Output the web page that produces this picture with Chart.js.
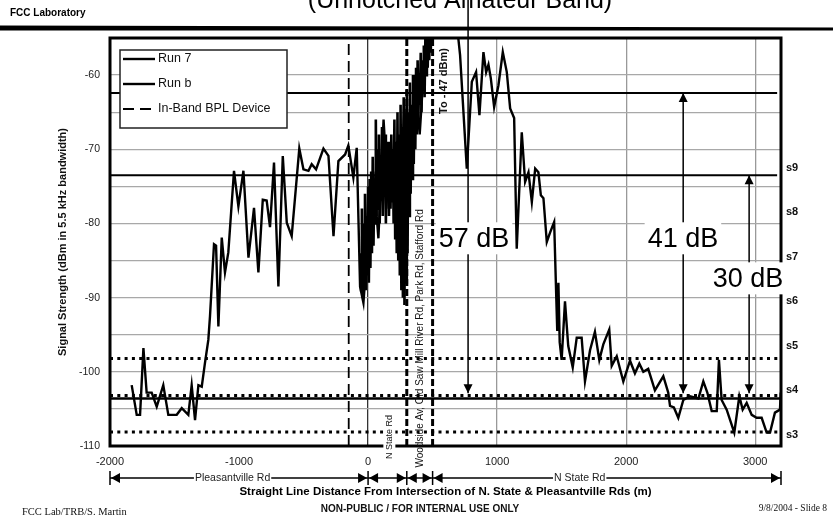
<!DOCTYPE html>
<html>
<head>
<meta charset="utf-8">
<script src="https://cdn.jsdelivr.net/npm/chart.js@4.4.1/dist/chart.umd.min.js"></script>
<style>
  html, body { margin: 0; padding: 0; background: #fff; }
  canvas { display: block; }
</style>
</head>
<body>
<canvas id="chart" width="833" height="518"></canvas>
<script>
// Run 7 (distance from intersection in m, signal in dBm)
const run7Dist = [-1832, -1793, -1767, -1741, -1716, -1677, -1638, -1587, -1548, -1483, -1444, -1393, -1367, -1341, -1315, -1289,
    -1264, -1238, -1225, -1194, -1178, -1160, -1134, -1109, -1083, -1039, -1005, -966, -927, -884, -850, -816, -786, -760,
    -729, -695, -661, -630, -592, -533, -501, -462, -437, -403, -346, -307, -268, -230, -178, -153, -114, -88, -62, -36,
    2, 40, 80, 120, 160, 200, 240, 280, 320, 360, 400, 440, 480, 560, 649, 693, 713, 765, 804, 837, 863, 894, 915, 933,
    951, 977, 1010, 1044, 1075, 1101, 1132, 1152, 1191, 1217, 1243, 1269, 1295, 1320, 1339, 1359, 1385, 1411, 1442, 1458,
    1466, 1475, 1485, 1500, 1526, 1551, 1586, 1617, 1655, 1681, 1720, 1758, 1792, 1823, 1869, 1888, 1927, 1978, 2030, 2068,
    2102, 2133, 2171, 2223, 2288, 2326, 2340, 2370, 2404, 2443, 2495, 2560, 2598, 2629, 2663, 2702, 2719, 2740, 2779, 2838,
    2877, 2903, 2934, 2973, 3011, 3050, 3089, 3115, 3153, 3192, 3198];
const run7Dbm = [-101.8, -105.8, -105.8, -96.8, -102.8, -102.8, -104.7, -101.8, -105.8, -105.8, -104.9, -105.8, -101.8, -106.5, -101.8, -102,
    -98.8, -95.7, -92.5, -82.8, -83, -93.9, -81.9, -86.6, -83.9, -72.9, -77.7, -72.9, -84.6, -77.9, -86.6, -76.8, -76.9, -80.5,
    -71.8, -88.5, -70.9, -79.9, -81.7, -69.9, -72.7, -72.9, -72.0, -72.7, -69.9, -70.9, -81.7, -71.6, -70.7, -69.5, -73.8, -69.8, -88.5, -90.7,
    -81.7, -73, -82, -66, -78, -70, -85, -64, -76, -60, -68, -57, -54, -47, -50, -54, -57.3, -72.6, -60.9, -59.6, -65.4, -56.9, -59.6, -58.6,
    -60.4, -64.3, -61.4, -56.9, -59.6, -64.5, -65.8, -83.4, -67.7, -74.4, -73.1, -77.1, -72.6, -73.1, -76.2, -76.6, -82.5, -81.2, -79.8, -89.7,
    -94.5, -88, -96, -98.4, -90.5, -96.5, -99.4, -95.4, -95.4, -101.3, -97.1, -94.6, -98.4, -96.3, -94.3, -99.2, -97.9, -101.3, -98.5, -100.2,
    -98.9, -100, -99.6, -102.5, -100.6, -102.8, -104.6, -104.8, -106.2, -103.8, -103.3, -103.6, -101.3, -102.8, -105.3, -105.3, -98.4, -103.8, -105.1, -108.2,
    -103.3, -105.1, -104.2, -105.8, -106.2, -106.2, -108.2, -108.2, -105.5, -105.1, -102.8];

// Run b, dense sweep near the intersection
const runBDist = [-60, -54, -48, -42, -36, -30, -24, -18, -12, -6, 0, 6, 12, 18, 24, 30, 36, 42, 48, 54, 60, 66, 72, 78, 84, 90,
    96, 102, 108, 114, 120, 126, 132, 138, 144, 150, 156, 162, 168, 174, 180, 186, 192, 198, 204, 210, 216, 222, 228, 234,
    240, 246, 252, 258, 264, 270, 276, 282, 288, 294, 300, 306, 312, 318, 324, 330, 336, 342, 348, 354, 360, 366, 372, 378,
    384, 390, 396, 402, 408, 414, 420, 426, 432, 438, 444, 450, 456, 462, 468, 474, 480, 486, 492, 498, 504];
const runBDbm = [-84, -89, -78, -90, -80, -88, -76, -89, -79, -87, -75, -88, -74, -86, -73, -84, -71, -83, -74, -80, -66, -79, -70, -78, -68, -80,
    -72, -77, -67, -79, -71, -76, -68, -80, -70, -77, -69, -79, -72, -78, -68, -77, -70, -80, -66, -82, -69, -84, -65, -85,
    -68, -87, -64, -89, -67, -90, -63, -91, -66, -88, -62, -84, -65, -79, -61, -76, -64, -74, -60, -72, -62, -70, -59, -68,
    -58, -66, -60, -64, -57, -65, -58, -62, -56, -63, -55, -60, -54, -59, -53, -58, -52, -57, -50, -55, -49];

const bplDevices = [-150];
const roadCrossings = [300, 500];
const noiseFloor = -103.6;
const refLevels = [-62.4, -73.5];
const dottedLevels = [-98.2, -103.2, -108.1];
const arrowDist = [775, 2442, 2953];
const arrowTop = [-47, -62.4, -73.5];
const arrowTip = -102.9;
const arrowLabels = ['57 dB', '41 dB', '30 dB'];
const sUnitValues = [-73, -79, -85, -91, -97, -103, -109];
const sUnitLabels = ['s9', 's8', 's7', 's6', 's5', 's4', 's3'];
const xTickValues = [-2000, -1000, 0, 1000, 2000, 3000];
const xGridAt = [0, 1000, 2000, 3000];
const roadBounds = [-2000, 0, 300, 500, 3200];
const roadNames = ['Pleasantville Rd', '', '', 'N State Rd'];
const roadNameAt = [-1050, 0, 0, 1640];

const pts = (xs, ys) => xs.map((x, i) => ({ x, y: ys[i] }));
const seg = (x1, y1, x2, y2) => [{ x: x1, y: y1 }, { x: x2, y: y2 }];
const black = (label, data, extra) => Object.assign({
    label, data, borderColor: '#000', backgroundColor: '#000', borderWidth: 2,
    pointRadius: 0, tension: 0, fill: false
}, extra);

const datasets = [
    black('Run 7', pts(run7Dist, run7Dbm), { borderWidth: 2.4, legend: true }),
    black('Run b', pts(runBDist, runBDbm), { borderWidth: 2.6, legend: true }),
    ...bplDevices.map(d => black('In-Band BPL Device', seg(d, -110, d, -55), { borderWidth: 1.8, borderDash: [11, 6], legend: true })),
    ...roadCrossings.map(d => black('crossing', seg(d, -110, d, -55), { borderWidth: 3, borderDash: [7, 3] })),
    black('floor', seg(-2000, noiseFloor, 3200, noiseFloor), { borderWidth: 2.5 }),
    ...refLevels.map(v => black('ref', seg(-2000, v, 3170, v), { borderWidth: 2 })),
    ...dottedLevels.map(v => black('dots', seg(-2000, v, 3200, v), { borderWidth: 3, borderDash: [3, 4.3] })),
    ...arrowDist.map((d, i) => black('arrow', seg(d, arrowTop[i], d, arrowTip), { borderWidth: 1.5, clip: i === 0 ? false : undefined }))
];

function head(ctx, px, py, dir) {
    // dir 1 = pointing down, -1 = pointing up; (px, py) is the tip
    ctx.beginPath();
    ctx.moveTo(px, py);
    ctx.lineTo(px - 4.5, py - dir * 9);
    ctx.lineTo(px + 4.5, py - dir * 9);
    ctx.closePath();
    ctx.fill();
}

function rotText(ctx, text, cx, cy, font, bg) {
    ctx.save();
    ctx.translate(cx, cy);
    ctx.rotate(-Math.PI / 2);
    ctx.font = font;
    ctx.textAlign = 'center';
    ctx.textBaseline = 'middle';
    if (bg) {
        const w = ctx.measureText(text).width;
        ctx.fillStyle = '#fff';
        ctx.fillRect(-w / 2 - 2, -6, w + 4, 12);
    }
    ctx.fillStyle = '#111';
    ctx.fillText(text, 0, 0);
    ctx.restore();
}

const overlay = {
    id: 'overlay',
    afterDatasetsDraw(chart) {
        const { ctx, chartArea: a, scales: { x, y } } = chart;
        ctx.save();
        // plot frame
        ctx.strokeStyle = '#000';
        ctx.lineWidth = 3;
        ctx.strokeRect(a.left, a.top, a.right - a.left, a.bottom - a.top);

        // arrowheads
        ctx.fillStyle = '#000';
        arrowDist.forEach((d, i) => {
            const px = x.getPixelForValue(d);
            if (i > 0) head(ctx, px, y.getPixelForValue(arrowTop[i]), -1);
            head(ctx, px, y.getPixelForValue(arrowTip), 1);
        });

        // dB labels on white boxes
        const labelAt = [[821, -82], [2440, -82], [2944, -87.4]];
        ctx.font = '27px "Liberation Sans", Arial, sans-serif';
        ctx.textAlign = 'center';
        ctx.textBaseline = 'middle';
        arrowLabels.forEach((t, i) => {
            const cx = x.getPixelForValue(labelAt[i][0]);
            const cy = y.getPixelForValue(labelAt[i][1]);
            const w = ctx.measureText(t).width;
            ctx.fillStyle = '#fff';
            ctx.fillRect(cx - w / 2 - 3, cy - 16, w + 6, 32);
            ctx.fillStyle = '#000';
            ctx.fillText(t, cx, cy + 1);
        });

        // rotated notes
        rotText(ctx, 'To - 47 dBm)', x.getPixelForValue(588), y.getPixelForValue(-60.8), 'bold 11px "Liberation Sans", Arial, sans-serif');
        rotText(ctx, 'Woodside Av, Old Saw Mill River Rd, Park Rd, Stafford Rd', x.getPixelForValue(402), y.getPixelForValue(-95.5), '10px "Liberation Sans", Arial, sans-serif');
        rotText(ctx, 'N State Rd', x.getPixelForValue(165), y.getPixelForValue(-108.8), '9px "Liberation Sans", Arial, sans-serif', true);

        // legend
        const lx = a.left + 10, ly = a.top + 12;
        ctx.fillStyle = '#fff';
        ctx.fillRect(lx, ly, 167, 78);
        ctx.lineWidth = 1.5;
        ctx.strokeStyle = '#222';
        ctx.strokeRect(lx, ly, 167, 78);
        ctx.font = '12.5px "Liberation Sans", Arial, sans-serif';
        ctx.textAlign = 'left';
        ctx.textBaseline = 'middle';
        chart.data.datasets.filter(ds => ds.legend).forEach((ds, i) => {
            const yy = ly + 9 + i * 25;
            ctx.strokeStyle = '#000';
            ctx.lineWidth = Math.min(ds.borderWidth, 2.4);
            ctx.setLineDash(ds.borderDash || []);
            ctx.beginPath();
            ctx.moveTo(lx + 3, yy);
            ctx.lineTo(lx + 35, yy);
            ctx.stroke();
            ctx.setLineDash([]);
            ctx.fillStyle = '#111';
            ctx.fillText(ds.label, lx + 38, yy);
        });
        ctx.restore();
    },
    afterDraw(chart) {
        const { ctx, chartArea: a, scales: { x } } = chart;
        ctx.save();
        ctx.fillStyle = '#000';

        // header
        ctx.font = '25px "Liberation Sans", Arial, sans-serif';
        ctx.textAlign = 'center';
        ctx.textBaseline = 'alphabetic';
        ctx.fillText('(Unnotched Amateur Band)', 460, 8);
        ctx.font = 'bold 10px "Liberation Sans", Arial, sans-serif';
        ctx.textAlign = 'left';
        ctx.textBaseline = 'middle';
        ctx.fillText('FCC Laboratory', 10, 13);
        ctx.beginPath();
        ctx.moveTo(0, 25.5);
        ctx.lineTo(833, 27.5);
        ctx.lineTo(833, 30.5);
        ctx.lineTo(0, 30.5);
        ctx.closePath();
        ctx.fill();

        // axis titles
        rotText(ctx, 'Signal Strength (dBm in 5.5 kHz bandwidth)', 63, (a.top + a.bottom) / 2, 'bold 11px "Liberation Sans", Arial, sans-serif');
        ctx.fillStyle = '#000';
        ctx.font = 'bold 11.5px "Liberation Sans", Arial, sans-serif';
        ctx.textAlign = 'center';
        ctx.fillText('Straight Line Distance From Intersection of N. State & Pleasantville Rds (m)', (a.left + a.right) / 2, 492);

        // road bar
        const ry = 478;
        ctx.strokeStyle = '#000';
        ctx.lineWidth = 1.5;
        for (let i = 0; i < roadBounds.length - 1; i++) {
            const x1 = x.getPixelForValue(roadBounds[i]);
            const x2 = x.getPixelForValue(roadBounds[i + 1]);
            ctx.beginPath();
            ctx.moveTo(x1, ry);
            ctx.lineTo(x2, ry);
            ctx.stroke();
            ctx.beginPath();
            ctx.moveTo(x1 + 1, ry); ctx.lineTo(x1 + 10, ry - 5); ctx.lineTo(x1 + 10, ry + 5); ctx.closePath();
            ctx.moveTo(x2 - 1, ry); ctx.lineTo(x2 - 10, ry - 5); ctx.lineTo(x2 - 10, ry + 5); ctx.closePath();
            ctx.fill();
            if (roadNames[i]) {
                ctx.font = '10.5px "Liberation Sans", Arial, sans-serif';
                const cx = x.getPixelForValue(roadNameAt[i]);
                const w = ctx.measureText(roadNames[i]).width;
                ctx.fillStyle = '#fff';
                ctx.fillRect(cx - w / 2 - 1, ry - 6, w + 2, 12);
                ctx.fillStyle = '#222';
                ctx.textBaseline = 'middle';
                ctx.fillText(roadNames[i], cx, ry);
                ctx.fillStyle = '#000';
            }
        }
        roadBounds.forEach(b => {
            const px = x.getPixelForValue(b);
            ctx.beginPath();
            ctx.moveTo(px, ry - 7);
            ctx.lineTo(px, ry + 7);
            ctx.stroke();
        });

        // footer
        ctx.fillStyle = '#111';
        ctx.font = '10.5px "Liberation Serif", "Times New Roman", serif';
        ctx.textAlign = 'left';
        ctx.fillText('FCC Lab/TRB/S. Martin', 22, 512);
        ctx.textAlign = 'right';
        ctx.font = '9.5px "Liberation Serif", "Times New Roman", serif';
        ctx.fillText('9/8/2004 - Slide 8', 827, 508);
        ctx.textAlign = 'center';
        ctx.font = 'bold 10px "Liberation Sans", Arial, sans-serif';
        ctx.fillText('NON-PUBLIC / FOR INTERNAL USE ONLY', 420, 509);
        ctx.restore();
    }
};

const tickFont = { family: '"Liberation Sans", Arial, sans-serif', size: 10.5 };

new Chart(document.getElementById('chart'), {
    type: 'line',
    data: { datasets },
    plugins: [overlay],
    options: {
        responsive: false,
        animation: false,
        layout: { padding: { top: 38, left: 0, right: 0, bottom: 0 } },
        plugins: { legend: { display: false }, tooltip: { enabled: false } },
        scales: {
            x: {
                type: 'linear', min: -2000, max: 3200,
                afterFit: s => { s.height = 72; },
                afterBuildTicks: ax => { ax.ticks = xTickValues.map(v => ({ value: v })); },
                border: { display: false },
                grid: {
                    drawTicks: false, lineWidth: 1.3,
                    color: c => c.tick && xGridAt.includes(c.tick.value) ? (c.tick.value === 0 ? '#333' : '#999') : 'rgba(0,0,0,0)'
                },
                ticks: {
                    autoSkip: false, maxRotation: 0, padding: 9, color: '#222',
                    font: { family: tickFont.family, size: 11 },
                    callback: v => String(v)
                }
            },
            y: {
                min: -110, max: -55,
                afterFit: s => { s.width = 110; },
                border: { display: false },
                grid: { drawTicks: false, color: '#a8a8a8', lineWidth: 1.3 },
                ticks: {
                    stepSize: 5, padding: 10, color: '#222', font: tickFont,
                    callback: v => v % 10 === 0 ? String(v) : ''
                }
            },
            s: {
                position: 'right', min: -110, max: -55,
                afterFit: s => { s.width = 52; },
                afterBuildTicks: ax => { ax.ticks = sUnitValues.map(v => ({ value: v })); },
                border: { display: false },
                grid: { display: false, drawTicks: false },
                ticks: {
                    padding: 5, labelOffset: -4, color: '#111',
                    font: { family: tickFont.family, size: 11, weight: 'bold' },
                    callback: (v, i) => sUnitLabels[i]
                }
            }
        }
    }
});
</script>
</body>
</html>
